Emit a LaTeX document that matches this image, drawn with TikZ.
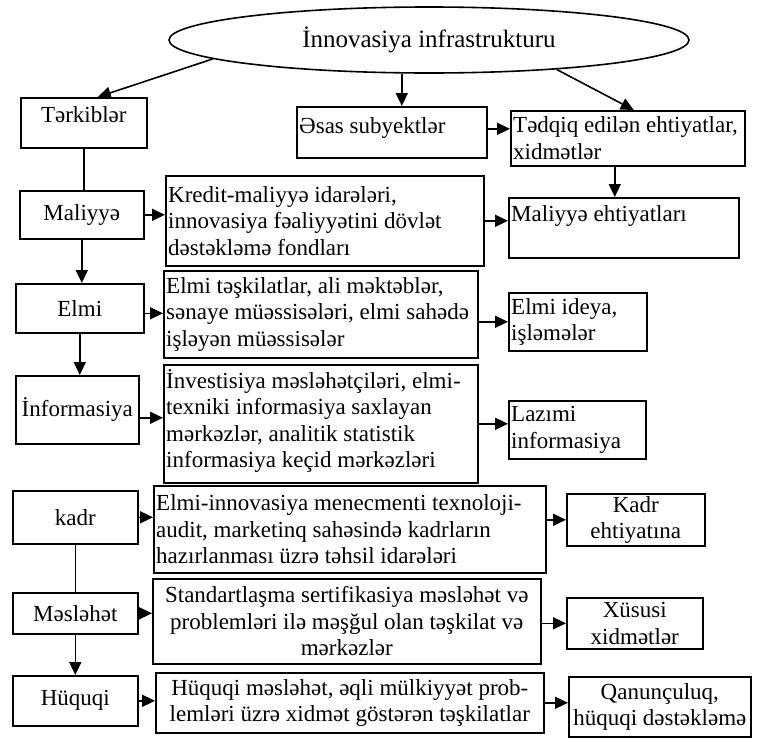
\documentclass[tikz,border=0pt]{standalone}
\usepackage{fontspec}
\setmainfont{Liberation Serif}
\usetikzlibrary{arrows.meta,shapes.geometric}

\begin{document}
\begin{tikzpicture}[x=1pt,y=-1pt,
    blok/.style={draw, line width=1.6pt, inner sep=0pt, anchor=north west,
        font=\fontsize{23}{26.5}\selectfont},
    yazi/.style={inner sep=0pt, align=left, font=\fontsize{23}{26.5}\selectfont},
    ox/.style={line width=1.6pt, -{Triangle[length=13pt,width=12pt]}},
    xett/.style={line width=1.6pt}]
    \useasboundingbox (0,0) rectangle (763,739);
    %% Ellipse
    \node[draw, ellipse, line width=1.6pt, minimum width=520pt, minimum height=66pt,
        inner sep=0pt, font=\fontsize{25}{30}\selectfont] (infra) at (429,40)
        {İnnovasiya infrastrukturu};
    %% Top row
    \node[blok, minimum width=126pt, minimum height=50pt] (terk) at (20,97) {};
    \node[yazi] (terk-y) at ([yshift=-18pt]terk.north) {Tərkiblər};
    \node[blok, minimum width=190pt, minimum height=51pt] (esas) at (296,106) {};
    \node[yazi, anchor=west] (esas-y) at ([xshift=3pt,yshift=4pt]esas.west) {Əsas subyektlər};
    \node[blok, minimum width=234pt, minimum height=55pt] (tedqiq) at (510,110) {};
    \node[yazi, anchor=west] (tedqiq-y) at ([xshift=3pt]tedqiq.west)
        {Tədqiq edilən ehtiyatlar,\\xidmətlər};
    %% Maliyye row
    \node[blok, minimum width=124pt, minimum height=48pt] (maliyye) at (19,190) {Maliyyə};
    \node[blok, minimum width=318pt, minimum height=90pt] (kredit) at (165,175) {};
    \node[yazi, anchor=west] (kredit-y) at ([xshift=3pt]kredit.west)
        {Kredit-maliyyə idarələri,\\innovasiya fəaliyyətini dövlət\\dəstəkləmə fondları};
    \node[blok, minimum width=230pt, minimum height=60pt] (maleht) at (508,197) {};
    \node[yazi, anchor=west] (maleht-y) at ([xshift=3pt,yshift=12pt]maleht.west)
        {Maliyyə ehtiyatları};
    %% Elmi row
    \node[blok, minimum width=128pt, minimum height=49pt] (elmi) at (15,283) {Elmi};
    \node[blok, minimum width=314pt, minimum height=87pt] (elmitesk) at (163,270) {};
    \node[yazi, anchor=west] (elmitesk-y) at ([xshift=3pt]elmitesk.west)
        {Elmi təşkilatlar, ali məktəblər,\\sənaye müəssisələri, elmi sahədə\\işləyən müəssisələr};
    \node[blok, minimum width=138pt, minimum height=58pt] (elmiid) at (508,292) {};
    \node[yazi, anchor=west] (elmiid-y) at ([xshift=3pt]elmiid.west) {Elmi ideya,\\işləmələr};
    %% Informasiya row
    \node[blok, minimum width=123pt, minimum height=68pt] (inform) at (15,375) {İnformasiya};
    \node[blok, minimum width=314pt, minimum height=118pt] (invest) at (163,364) {};
    \node[yazi, anchor=west] (invest-y) at ([xshift=3pt,yshift=3pt]invest.west)
        {İnvestisiya məsləhətçiləri, elmi-\\texniki informasiya saxlayan\\mərkəzlər, analitik statistik\\informasiya keçid mərkəzləri};
    \node[blok, minimum width=137pt, minimum height=58pt] (lazimi) at (508,400) {};
    \node[yazi, anchor=west] (lazimi-y) at ([xshift=3pt]lazimi.west) {Lazımi\\informasiya};
    %% kadr row
    \node[blok, minimum width=125pt, minimum height=53pt] (kadr) at (12,490) {kadr};
    \node[blok, minimum width=392pt, minimum height=87pt] (elmiinn) at (153,485) {};
    \node[yazi, anchor=west] (elmiinn-y) at ([xshift=3pt]elmiinn.west)
        {Elmi-innovasiya menecmenti texnoloji-\\audit, marketinq sahəsində kadrların\\hazırlanması üzrə təhsil idarələri};
    \node[blok, minimum width=138pt, minimum height=52pt] (kadreht) at (566,493) {};
    \node[yazi, align=center] (kadreht-y) at (kadreht) {Kadr\\ehtiyatına};
    %% Meslehet row
    \node[blok, minimum width=125pt, minimum height=41pt] (meslehet) at (12,592) {Məsləhət};
    \node[blok, minimum width=388pt, minimum height=85pt] (standart) at (152,578) {};
    \node[yazi, align=center] (standart-y) at (standart)
        {Standartlaşma sertifikasiya məsləhət və\\problemləri ilə məşğul olan təşkilat və\\mərkəzlər};
    \node[blok, minimum width=136pt, minimum height=51pt] (xususi) at (566,597) {};
    \node[yazi, align=center] (xususi-y) at (xususi) {Xüsusi\\xidmətlər};
    %% Huquqi row
    \node[blok, minimum width=125pt, minimum height=50pt] (huquqi) at (12,675) {Hüquqi};
    \node[blok, minimum width=388pt, minimum height=60pt] (huqmes) at (155,672) {};
    \node[yazi, align=center] (huqmes-y) at (huqmes)
        {Hüquqi məsləhət, əqli mülkiyyət prob-\\lemləri üzrə xidmət göstərən təşkilatlar};
    \node[blok, minimum width=182pt, minimum height=60pt] (qanun) at (568,676) {};
    \node[yazi, align=center] (qanun-y) at (qanun) {Qanunçuluq,\\hüquqi dəstəkləmə};

    %% Arrows from the ellipse
    \draw[ox] (infra.185) -- ([xshift=14pt]terk.north);
    \draw[ox] ([xshift=10pt]esas.north |- infra.south) -- ([xshift=10pt]esas.north);
    \draw[ox] (infra.-13) -- ([xshift=6pt]tedqiq.north);
    \draw[ox] ([yshift=3.5pt]esas.east) -- ([yshift=3.5pt]esas.east -| tedqiq.west);
    \draw[ox] ([xshift=-13pt]tedqiq.south) -- ([xshift=-13pt]tedqiq.south |- maleht.north);
    %% Left column
    \draw[xett] (terk.south) -- (terk.south |- maliyye.north);
    \draw[ox] (maliyye.south) -- (maliyye.south |- elmi.north);
    \draw[ox] (elmi.south) -- (elmi.south |- inform.north);
    \draw[xett] (kadr.south) -- (kadr.south |- meslehet.north);
    \draw[ox] (meslehet.south) -- (meslehet.south |- huquqi.north);
    %% Rows
    \draw[ox] (maliyye.east) -- (maliyye.east -| kredit.west);
    \draw[ox] (kredit.east) -- (kredit.east -| maleht.west);
    \draw[ox] ([yshift=-5pt]elmi.east) -- ([yshift=-5pt]elmi.east -| elmitesk.west);
    \draw[ox] (elmiid.west -| elmitesk.east) -- (elmiid.west);
    \draw[ox] ([yshift=-8pt]inform.east) -- ([yshift=-8pt]inform.east -| invest.west);
    \draw[ox] (invest.east) -- (invest.east -| lazimi.west);
    \draw[ox] (kadr.east) -- (kadr.east -| elmiinn.west);
    \draw[ox] (kadreht.west -| elmiinn.east) -- (kadreht.west);
    \draw[ox] (meslehet.east) -- (meslehet.east -| standart.west);
    \draw[ox] (xususi.west -| standart.east) -- (xususi.west);
    \draw[ox] (huquqi.east) -- (huquqi.east -| huqmes.west);
    \draw[ox] (huqmes.east) -- (huqmes.east -| qanun.west);
\end{tikzpicture}
\end{document}
